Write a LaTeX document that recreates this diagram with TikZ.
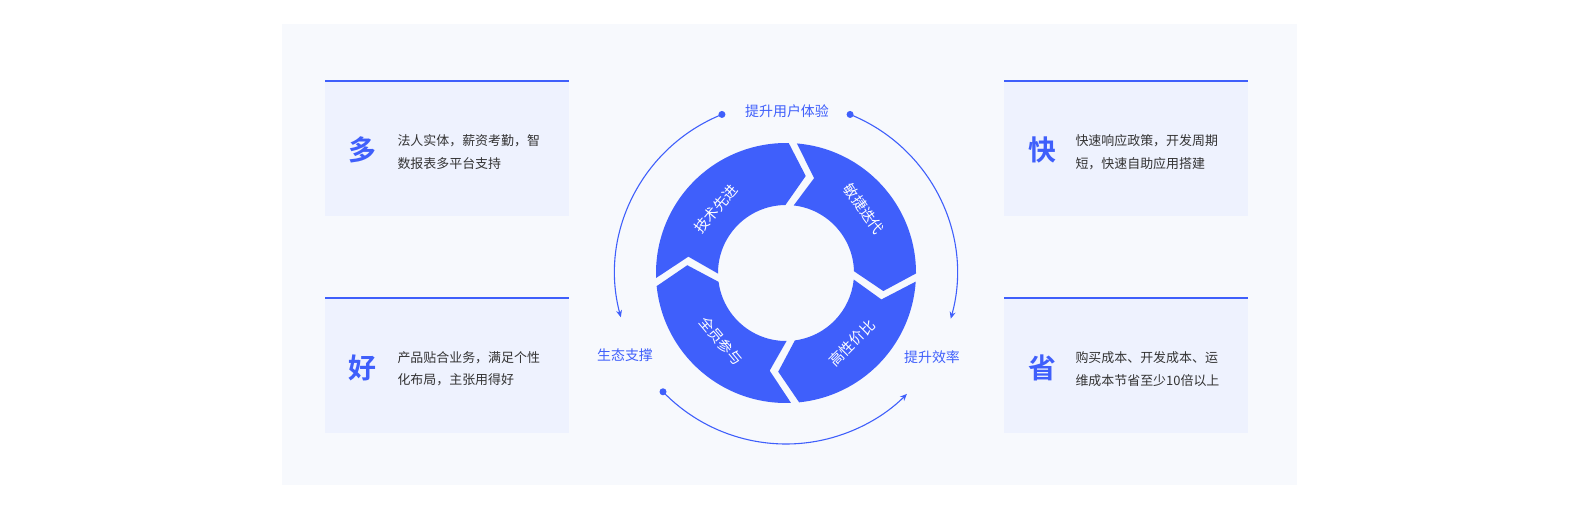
\documentclass[tikz,border=0pt]{standalone}
\usepackage{fontspec}
\setmainfont{Noto Sans CJK SC}
\newfontfamily\cjkb{Noto Sans CJK SC Bold}
\usetikzlibrary{arrows.meta}
\definecolor{bl}{HTML}{3F5FFB}
\definecolor{bg}{HTML}{F7F9FD}
\definecolor{card}{HTML}{EEF2FE}
\definecolor{tx}{HTML}{333333}
\begin{document}
\begin{tikzpicture}[x=1bp,y=-1bp,
  big/.style={text=bl,font=\cjkb\fontsize{28}{30}\selectfont},
  desc/.style={text=tx,font=\fontsize{13}{22.5}\selectfont,align=left,anchor=west},
  seg/.style={fill=bl,draw=none},
  segtxt/.style={text=white,font=\fontsize{14.5}{16}\selectfont},
  lab/.style={text=bl,font=\fontsize{14}{16}\selectfont},
  flow/.style={draw=bl,line width=1.1pt,-{Stealth[length=7pt,width=6pt]}}]
\useasboundingbox (0,0) rectangle (1578,511);
\fill[bg] (282,24) rectangle (1297,485);
% cards
\foreach \x/\y in {325/81,325/298,1004/81,1004/298}{
  \fill[card] (\x,\y) rectangle ++(244,135);
  \draw[bl,line width=3pt] (\x,\y) -- ++(244,0);
}
\node[big] (c1) at (362,150) {多};
\node[desc] (d1) at (394,152) {法人实体，薪资考勤，智\\数报表多平台支持};
\node[big] (c2) at (362,368) {好};
\node[desc] (d2) at (394,369) {产品贴合业务，满足个性\\化布局，主张用得好};
\node[big] (c3) at (1042,150) {快};
\node[desc] (d3) at (1072,152) {快速响应政策，开发周期\\短，快速自助应用搭建};
\node[big] (c4) at (1042,368) {省};
\node[desc] (d4) at (1072,369) {购买成本、开发成本、运\\维成本节省至少10倍以上};
% ring
\begin{scope}[shift={(786,273)}]
\def\Ro{130}\def\Ri{68}\def\Rm{99}\def\tip{11}
\foreach \a/\b in {176/273, 273/362, 362/446, 446/536}{
  \fill[seg] (\a+1.8:\Ro) arc[start angle=\a+1.8,end angle=\b-1.8,radius=\Ro]
     -- (\b-2.5+\tip:\Rm) -- (\b-3.5:\Ri)
     arc[start angle=\b-3.5,end angle=\a+3.5,radius=\Ri]
     -- (\a+2.5+\tip:\Rm) -- cycle;
}
\node[segtxt,rotate=50] (s1) at (-70,-64) {技术先进};
\node[segtxt,rotate=-55] (s2) at (78,-64) {敏捷迭代};
\node[segtxt,rotate=45] (s3) at (66,70) {高性价比};
\node[segtxt,rotate=-50] (s4) at (-65,68) {全员参与};
% outer arrows
\coordinate (p1) at (-112:171);
\coordinate (p2) at (-68:171);
\coordinate (p3) at (136:171);
\fill[bl] (p1) circle (3.5);
\fill[bl] (p2) circle (3.5);
\fill[bl] (p3) circle (3.5);
\draw[flow] (p1) arc[start angle=-112,end angle=-195,radius=171];
\draw[flow] (p2) arc[start angle=-68,end angle=15.5,radius=171];
\draw[flow] (p3) arc[start angle=136,end angle=45,radius=171];
\end{scope}
\node[lab] (l1) at (787,111) {提升用户体验};
\node[lab] (l2) at (625,355) {生态支撑};
\node[lab] (l3) at (932,357) {提升效率};
\end{tikzpicture}
\end{document}
